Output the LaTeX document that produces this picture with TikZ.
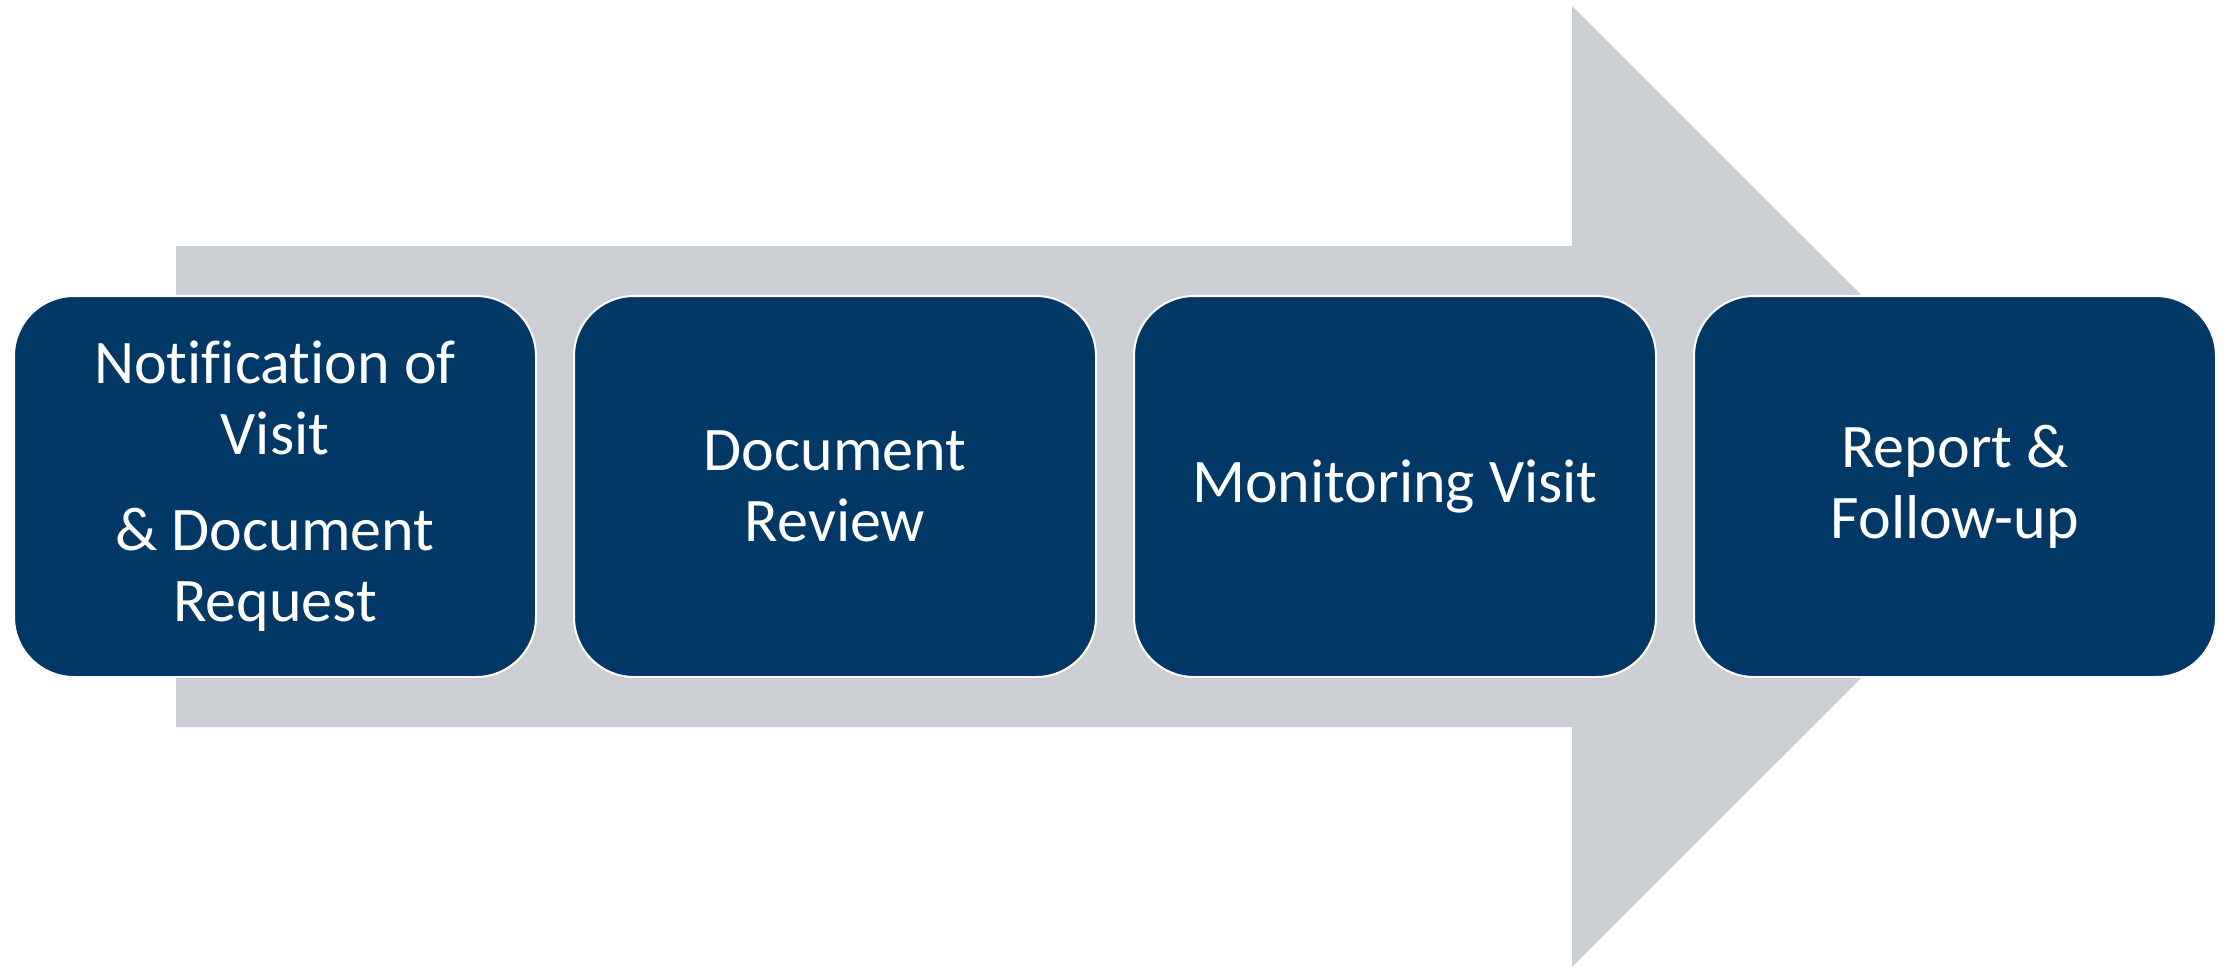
\documentclass[tikz,border=0pt]{standalone}
\usepackage{fontspec}
\setmainfont{Carlito}[Ligatures={NoCommon}]
\definecolor{boxblue}{RGB}{1,56,101}
\definecolor{arrowgray}{RGB}{203,206,211}
\tikzset{
  stepbox/.style={draw=white, line width=2pt, fill=boxblue, rounded corners=60pt,
    minimum width=522pt, minimum height=381pt, align=center, text=white,
    font=\fontsize{62pt}{71pt}\selectfont, inner sep=0pt},
  bigarrow/.style={fill=arrowgray, draw=none}
}
\begin{document}
\begin{tikzpicture}[x=1pt, y=-1pt]
\useasboundingbox (0,0) rectangle (2231,967);
\fill[bigarrow] (176,246) -- (1572,246) -- (1572,6) -- (2053,486.5) -- (1572,967) -- (1572,727) -- (176,727) -- cycle;
\node[stepbox] (s1) at (275,486.5) {Notification of\\Visit\\[25pt]\& Document\\Request};
\node[stepbox] (s2) at (835,486.5) {Document\\Review};
\node[stepbox] (s3) at (1395,486.5) {Monitoring Visit};
\node[stepbox] (s4) at (1955,486.5) {Report \&\\Follow-up};
\end{tikzpicture}
\end{document}
